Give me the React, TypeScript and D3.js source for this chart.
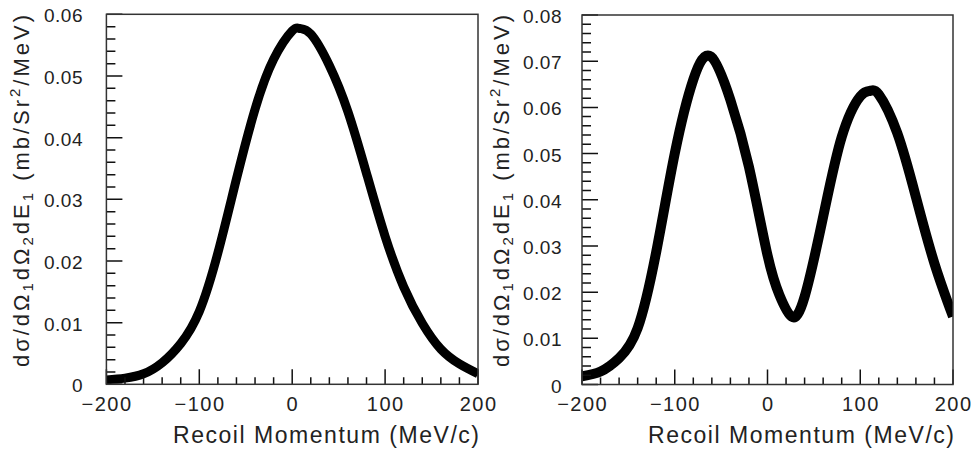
import * as d3 from "d3";

// recoil momentum (MeV/c) and cross section, left panel
const leftMomentum = [-200, -180, -160, -140, -120, -100, -80, -60, -40, -20, 0, 8, 20, 40, 60, 80, 100, 120, 140, 160, 180, 200];
const leftSigma = [0.0007, 0.001, 0.0017, 0.0035, 0.0066, 0.0118, 0.0213, 0.0333, 0.0446, 0.0527, 0.0573, 0.0577, 0.0568, 0.0517, 0.0442, 0.0342, 0.024, 0.0158, 0.0099, 0.0057, 0.0033, 0.0017];

// right panel
const rightMomentum = [-200, -180, -160, -140, -120, -100, -80, -61, -40, -20, 0, 13, 26, 40, 60, 80, 100, 111, 120, 140, 160, 180, 200];
const rightSigma = [0.0018, 0.0028, 0.0057, 0.0122, 0.0287, 0.05, 0.066, 0.071, 0.0616, 0.0471, 0.028, 0.0193, 0.0147, 0.019, 0.0363, 0.0536, 0.0624, 0.0636, 0.0628, 0.0544, 0.0406, 0.0262, 0.0147];

const xTicks = [-200, -100, 0, 100, 200];
const xTickLabels = ["\u2212200", "\u2212100", "0", "100", "200"];
const leftYTicks = [0, 0.01, 0.02, 0.03, 0.04, 0.05, 0.06];
const leftYLabels = ["0", "0.01", "0.02", "0.03", "0.04", "0.05", "0.06"];
const rightYTicks = [0, 0.01, 0.02, 0.03, 0.04, 0.05, 0.06, 0.07, 0.08];
const rightYLabels = ["0", "0.01", "0.02", "0.03", "0.04", "0.05", "0.06", "0.07", "0.08"];

const FONT = "'Liberation Sans', Arial, sans-serif";
const INK = "#222";

function Panel({ id, x0, x1, y0, y1, yMax, yTicks, yLabels, xs, ys, labelRight, titleX, lineWidth }) {
  const x = d3.scaleLinear().domain([-200, 200]).range([x0, x1]);
  const y = d3.scaleLinear().domain([0, yMax]).range([y1, y0]);

  const curve = d3
    .line<number>()
    .x((d, i) => x(xs[i]))
    .y((d) => y(d))
    .curve(d3.curveNatural);

  const xMinor = d3.range(-200, 201, 20);
  const yMinor = d3.range(0, Math.round(yMax / 0.002) + 1).map((k) => k * 0.002);

  // ticks point into the frame, on the left and bottom sides only
  const tickD =
    xMinor.map((v) => `M${x(v)},${y1}v-7`).join("") +
    xTicks.map((v) => `M${x(v)},${y1}v-15`).join("") +
    yMinor.map((v) => `M${x0},${y(v)}h9`).join("") +
    yTicks.map((v) => `M${x0},${y(v)}h16`).join("");

  return (
    <g>
      <defs>
        <clipPath id={id}>
          <rect x={x0} y={y0} width={x1 - x0} height={y1 - y0} />
        </clipPath>
      </defs>

      <path
        d={curve(ys) || ""}
        fill="none"
        stroke="#000"
        strokeWidth={lineWidth}
        clipPath={`url(#${id})`}
      />

      <path d={tickD} fill="none" stroke="#111" strokeWidth={1.5} />

      <rect x={x0} y={y0} width={x1 - x0} height={y1 - y0} fill="none" stroke="#333" strokeWidth={1.5} />

      {/* tick labels */}
      {xTicks.map((v, i) => (
        <text key={"xl" + v} x={x(v) + 0.7} y={411} textAnchor="middle" fontFamily={FONT} fontSize={20} letterSpacing={1.5} fill={INK}>
          {xTickLabels[i]}
        </text>
      ))}
      {yTicks.map((v, i) => (
        <text key={"yl" + v} x={labelRight} y={y(v) + 8} textAnchor="end" fontFamily={FONT} fontSize={19} letterSpacing={0.5} fill={INK}>
          {yLabels[i]}
        </text>
      ))}

      <text x={x1 + 1} y={443} textAnchor="end" fontFamily={FONT} fontSize={23} fill={INK} textLength={306} lengthAdjust="spacing">
        Recoil Momentum (MeV/c)
      </text>

      <text
        transform={`translate(${titleX},367) rotate(-90)`}
        fontFamily={FONT}
        fontSize={22}
        fill={INK}
        textLength={352}
        lengthAdjust="spacing"
      >
        dσ/dΩ<tspan fontSize={15} dy={4}>1</tspan>
        <tspan dy={-4}>dΩ</tspan>
        <tspan fontSize={15} dy={4}>2</tspan>
        <tspan dy={-4}>dE</tspan>
        <tspan fontSize={15} dy={4}>1</tspan>
        <tspan dy={-4}> (mb/Sr</tspan>
        <tspan fontSize={15} dy={-9}>2</tspan>
        <tspan dy={9}>/MeV)</tspan>
      </text>
    </g>
  );
}

export default function App() {
  return (
    <svg width={974} height={454} style={{ position: "absolute", left: 0, top: 0, background: "#fff" }}>
      <Panel
        id="clipL"
        x0={106.4}
        x1={478}
        y0={14.3}
        y1={384.3}
        yMax={0.06}
        yTicks={leftYTicks}
        yLabels={leftYLabels}
        xs={leftMomentum}
        ys={leftSigma}
        labelRight={83}
        titleX={29}
        lineWidth={9}
      />
      <Panel
        id="clipR"
        x0={582}
        x1={953}
        y0={15}
        y1={384.5}
        yMax={0.08}
        yTicks={rightYTicks}
        yLabels={rightYLabels}
        xs={rightMomentum}
        ys={rightSigma}
        labelRight={562}
        titleX={509}
        lineWidth={10}
      />
    </svg>
  );
}
